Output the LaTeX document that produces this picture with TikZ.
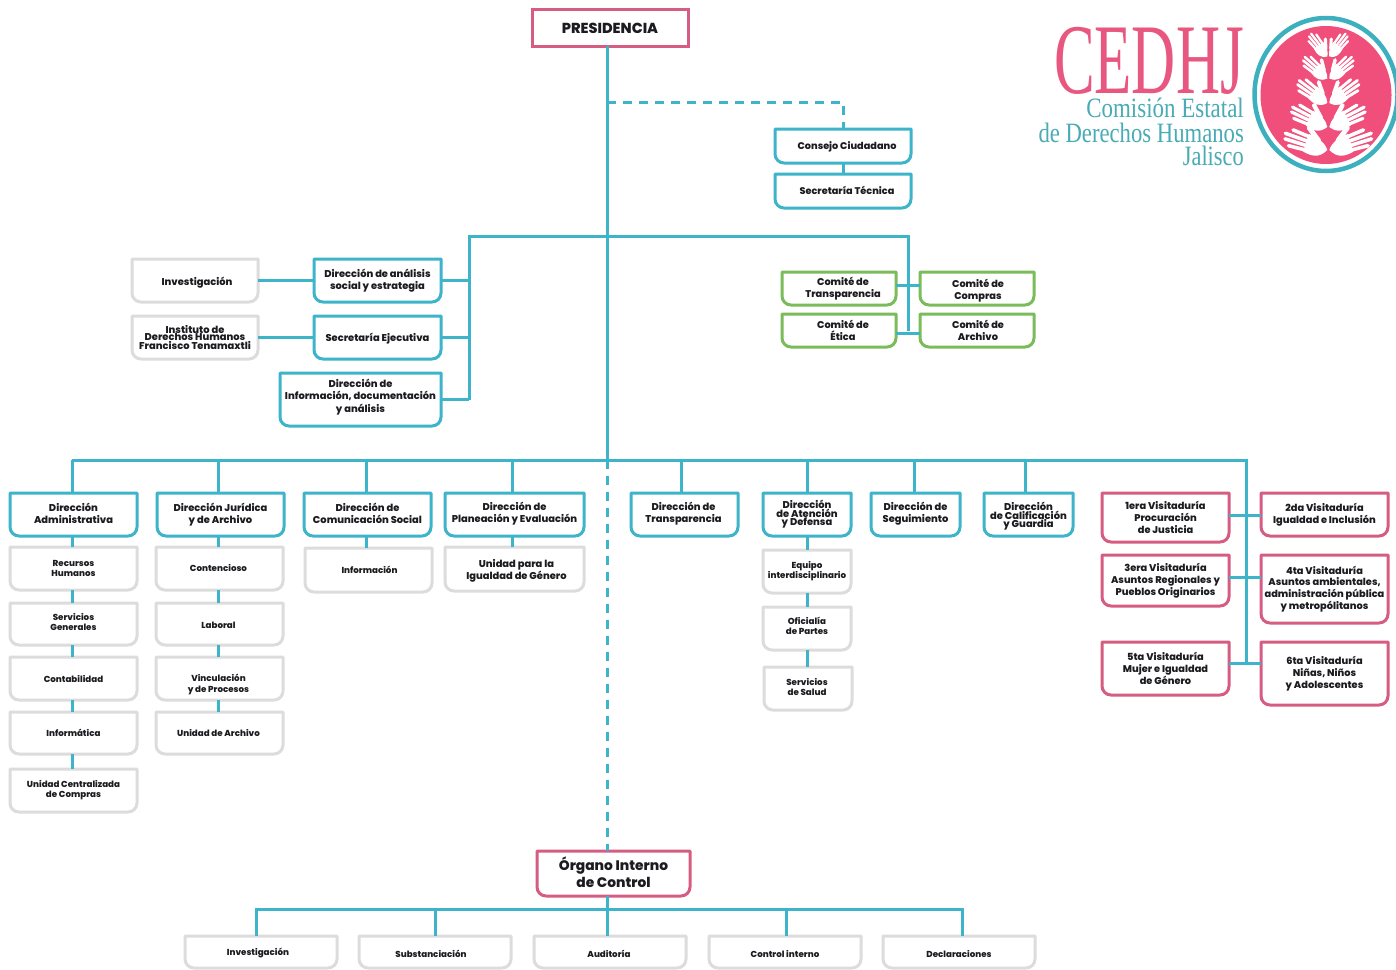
\documentclass[tikz,border=0pt]{standalone}
\usepackage{fontspec}
\setmainfont{Poppins}[BoldFont={Poppins ExtraBold}]
\newfontfamily\logofont{Liberation Serif}
\definecolor{teal1}{HTML}{3DB4C9}
\definecolor{pink1}{HTML}{D65C82}
\definecolor{green1}{HTML}{7ABB5A}
\definecolor{grey1}{HTML}{DCDCDC}
\definecolor{ink}{HTML}{1C1C20}
\definecolor{logopink}{HTML}{F04E7B}
\definecolor{logotext}{HTML}{E8577F}
\definecolor{logoteal}{HTML}{48ABB5}
\definecolor{logoring}{HTML}{3DB0BF}
\tikzset{
  x=1pt,y=-1pt,
  tealbox/.style={draw=teal1,line width=3pt,line join=round},
  pinkbox/.style={draw=pink1,line width=3pt,line join=round},
  greenbox/.style={draw=green1,line width=3pt,line join=round},
  greybox/.style={draw=grey1,line width=3pt,line join=round},
  link/.style={draw=teal1,line width=3pt},
  dashlink/.style={link,dash pattern=on 9pt off 7pt},
  txt/.style={text=ink,align=center,inner sep=0pt,outer sep=0pt},
  tM/.style={txt,font=\bfseries\fontsize{9.9}{12.2}\selectfont},
  tS/.style={txt,font=\bfseries\fontsize{8.7}{10.2}\selectfont},
  tV/.style={txt,font=\bfseries\fontsize{9.8}{11.8}\selectfont},
  tT/.style={txt,font=\bfseries\fontsize{9.9}{8.6}\selectfont},
  tI/.style={txt,font=\bfseries\fontsize{9.9}{7.8}\selectfont},
  tP/.style={txt,font=\bfseries\fontsize{14.5}{16}\selectfont},
  tC/.style={txt,font=\bfseries\fontsize{9.7}{12}\selectfont},
  tO/.style={txt,font=\bfseries\fontsize{13.8}{17}\selectfont},
  hollow/.style={inner sep=0pt,outer sep=0pt,rectangle},
}
% [text dx,dy]{name}{box style}{text style}{x1}{y1}{x2}{y2}{text}
\newcommand\bx[9][0,0]{%
  \node[hollow,minimum width={(#7-#5)*1pt},minimum height={(#8-#6)*1pt}] (#2) at ({(#5+#7)/2},{(#6+#8)/2}) {};
  \draw[#3] (#2.north west) [rounded corners=9pt] -- (#2.south west) -- (#2.south east) [rounded corners=0pt] -- (#2.north east) -- cycle;
  \node[#4] (#2-label) at ([shift={(#1)}]#2.center) {#9};
}
% the square box of the top
\newcommand\sqbx[7]{%
  \node[hollow,minimum width={(#5-#3)*1pt},minimum height={(#6-#4)*1pt}] (#1) at ({(#3+#5)/2},{(#4+#6)/2}) {};
  \draw[pinkbox,line join=miter] (#1.north west) rectangle (#1.south east);
  \node[#2] (#1-label) at ([yshift=-1pt]#1.center) {#7};
}
\newcommand\dropto[3]{\coordinate (tmpa) at ([xshift=#2pt]#1.north); \draw[link] (tmpa) -- (tmpa |- #3);}
\newcommand\vlink[3]{\coordinate (tmpa) at ([xshift=#3pt]#1.south); \draw[link] (tmpa) -- (tmpa |- #2.north);}
\newcommand\hlink[3]{\coordinate (tmpa) at ([yshift=#3pt]#1.east); \draw[link] (tmpa) -- (tmpa -| #2.west);}
% hand: base x, base y, rotation, length, mirror
\newcommand\hand[5]{%
  \begin{scope}[shift={(#1,#2)},rotate=#3,yscale=#5,scale=#4]
    \fill[white] (0,0) .. controls (.1,.14) and (.3,.21) .. (.5,.21) -- (.5,-.2) .. controls (.3,-.24) and (.12,-.24) .. (0,0) -- cycle;
    \begin{scope}[draw=white,line cap=round,line width={#4*0.08pt}]
      \draw (.45,.155) -- (.86,.19);
      \draw (.45,.05) -- (1,.065);
      \draw (.45,-.05) -- (.97,-.055);
      \draw (.45,-.15) -- (.85,-.175);
      \draw[line width={#4*0.11pt}] (.25,.14) -- (.53,.34);
    \end{scope}
  \end{scope}}
\begin{document}
\begin{tikzpicture}
\fill[white] (0,0) rectangle (1396,969);
\useasboundingbox (0,0) rectangle (1396,969);

% reference points of the trunk and the buses
\coordinate (dashbus) at (607,102);
\coordinate (bus1) at (607,236);
\coordinate (bus2) at (607,460);
\coordinate (bus3) at (607,909);
\coordinate (west1) at (469,236);
\coordinate (east1) at (908,236);
\coordinate (west2) at (72,460);
\coordinate (east2) at (1246,460);
\coordinate (west3) at (256,909);
\coordinate (east3) at (962,909);
\coordinate (vispine) at (1246,663);

% ---------- boxes
\sqbx{pres}{tP}{532}{9}{688}{46}{PRESIDENCIA}
\bx[4,0.5]{consejo}{tealbox}{tC}{775}{129}{911}{163}{Consejo Ciudadano}
\bx[4,-0.5]{sectec}{tealbox}{tC}{775}{174}{911}{208}{Secretaría Técnica}

\bx[4,0]{cotra}{greenbox}{tV}{782}{272}{896}{305}{Comité de\\Transparencia}
\bx[1,2]{cocom}{greenbox}{tV}{920}{272}{1034}{305}{Comité de\\Compras}
\bx[4,0]{coeti}{greenbox}{tV}{782}{314}{896}{347}{Comité de\\Ética}
\bx[1,0]{coarc}{greenbox}{tV}{920}{314}{1034}{347}{Comité de\\Archivo}

\bx[2,2]{inv}{greybox}{tM}{132}{259}{258}{302}{Investigación}
\bx{dasoc}{tealbox}{tM}{314}{259}{441}{302}{Dirección de análisis\\social y estrategia}
\bx{inst}{greybox}{tI}{132}{316}{258}{359}{Instituto de\\Derechos Humanos\\Francisco Tenamaxtli}
\bx[0,1]{sejec}{tealbox}{tM}{314}{316}{441}{359}{Secretaría Ejecutiva}
\bx[0,-2.5]{dinfo}{tealbox}{tM}{280}{373}{441}{426}{Dirección de\\Información, documentación\\y análisis}

\bx[0,-1]{dadm}{tealbox}{tM}{10}{493}{137}{536}{Dirección\\Administrativa}
\bx{djur}{tealbox}{tM}{157}{493}{284}{536}{Dirección Jurídica\\y de Archivo}
\bx[0,-1]{dcom}{tealbox}{tM}{304}{493}{431}{536}{Dirección de\\Comunicación Social}
\bx[0,-1]{dpla}{tealbox}{tM}{445}{493}{584}{536}{Dirección de\\Planeación y Evaluación}
\bx[-1,-1]{dtra}{tealbox}{tM}{631}{493}{738}{536}{Dirección de\\Transparencia}
\bx{date}{tealbox}{tT}{763}{493}{851}{536}{Dirección\\de Atención\\y Defensa}
\bx[0,-1]{dseg}{tealbox}{tM}{871}{493}{960}{536}{Dirección de\\Seguimiento}
\bx[0,2]{dcal}{tealbox}{tT}{984}{493}{1073}{536}{Dirección\\de Calificación\\y Guardia}

\bx{rh}{greybox}{tS}{10}{547}{137}{590}{Recursos\\Humanos}
\bx[0,-2]{sg}{greybox}{tS}{10}{603}{137}{645}{Servicios\\Generales}
\bx{cont}{greybox}{tS}{10}{657}{137}{700}{Contabilidad}
\bx{infm}{greybox}{tS}{10}{712}{137}{754}{Informática}
\bx{ucc}{greybox}{tS}{10}{769}{137}{812}{Unidad Centralizada\\de Compras}

\bx[-1,-1]{cnt}{greybox}{tS}{156}{547}{283}{590}{Contencioso}
\bx[-1,1]{lab}{greybox}{tS}{156}{603}{283}{645}{Laboral}
\bx[-1,6]{vin}{greybox}{tS}{156}{657}{283}{700}{Vinculación\\y de Procesos}
\bx[-1,0]{uar}{greybox}{tS}{156}{712}{283}{754}{Unidad de Archivo}

\bx[1,0]{inf}{greybox}{tS}{305}{548}{432}{592}{Información}
\bx[2,2]{uig}{greybox}{tM}{445}{547}{584}{591}{Unidad para la\\Igualdad de Género}

\bx{eq}{greybox}{tS}{763}{550}{851}{593}{Equipo\\interdisciplinario}
\bx[0,-2.5]{ofi}{greybox}{tS}{763}{607}{851}{650}{Oficialía\\de Partes}
\bx[-1,-1.5]{sal}{greybox}{tS}{764}{667}{852}{710}{Servicios\\de Salud}

\bx{v1}{pinkbox}{tV}{1102}{493}{1229}{542}{1era Visitaduría\\Procuración\\de Justicia}
\bx{v2}{pinkbox}{tV}{1261}{493}{1388}{536}{2da Visitaduría\\Igualdad e Inclusión}
\bx{v3}{pinkbox}{tV}{1102}{555}{1229}{606}{3era Visitaduría\\Asuntos Regionales y\\Pueblos Originarios}
\bx{v4}{pinkbox}{tV}{1261}{555}{1388}{623}{4ta Visitaduría\\Asuntos ambientales,\\administración pública\\y metropólitanos}
\bx{v5}{pinkbox}{tV}{1102}{642}{1229}{695}{5ta Visitaduría\\Mujer e Igualdad\\de Género}
\bx{v6}{pinkbox}{tV}{1261}{642}{1388}{705}{6ta Visitaduría\\Niñas, Niños\\y Adolescentes}

\bx[0,-1]{oic}{pinkbox}{tO}{537}{851}{690}{896}{Órgano Interno\\de Control}
\bx[-3,1.5]{b1}{greybox}{tS}{185}{936}{337}{968}{Investigación}
\bx[-4,1.5]{b2}{greybox}{tS}{359}{936}{511}{968}{Substanciación}
\bx[-1,1.5]{b3}{greybox}{tS}{534}{936}{686}{968}{Auditoría}
\bx[0,1.5]{b4}{greybox}{tS}{709}{936}{861}{968}{Control interno}
\bx[0,1.5]{b5}{greybox}{tS}{883}{936}{1035}{968}{Declaraciones}

% ---------- trunk and buses
\coordinate (ptrunk) at ([xshift=-3pt]pres.south);
\draw[link] (ptrunk) -- (ptrunk |- bus2);
\coordinate (otrunk) at ([xshift=-6.5pt]oic.north);
\draw[dashlink] (otrunk |- bus2) -- (otrunk);
\draw[dashlink] (dashbus) -- (dashbus -| consejo.north) -- (consejo.north);
\draw[link] (consejo.south) -- (sectec.north);

\draw[link] (west1 |- dinfo.east) -- (west1) -- (east1) -- (east1 |- coeti.east);
\coordinate (tmpb) at ([yshift=3.5pt]cotra.east);
\draw[link] (tmpb) -- (tmpb -| cocom.west);
\coordinate (tmpb) at ([yshift=-2.5pt]coeti.east);
\draw[link] (tmpb) -- (tmpb -| coarc.west);

\draw[link] (inv.east) -- (dasoc.west);
\draw[link] (inst.east) -- (sejec.west);
\draw[link] (dasoc.east) -- (dasoc.east -| west1);
\draw[link] (sejec.east) -- (sejec.east -| west1);
\draw[link] (dinfo.east) -- (dinfo.east -| west1);

\draw[link] (west2) -- (east2) -- (vispine);
\dropto{dadm}{-1.5}{bus2}
\dropto{djur}{-2.5}{bus2}
\dropto{dcom}{-1.5}{bus2}
\dropto{dpla}{-2.5}{bus2}
\dropto{dtra}{-3.5}{bus2}
\dropto{date}{0}{bus2}
\dropto{dseg}{-1.5}{bus2}
\dropto{dcal}{-3.5}{bus2}

\vlink{dadm}{rh}{-1.5}
\vlink{rh}{sg}{-1.5}
\vlink{sg}{cont}{-1.5}
\vlink{cont}{infm}{-1.5}
\vlink{infm}{ucc}{-1.5}
\vlink{djur}{cnt}{-2.5}
\vlink{cnt}{lab}{-1.5}
\vlink{lab}{vin}{-1.5}
\vlink{vin}{uar}{-1.5}
\vlink{dcom}{inf}{-1.5}
\vlink{dpla}{uig}{-2.5}
\vlink{date}{eq}{0}
\vlink{eq}{ofi}{0}
\vlink{ofi}{sal}{0}

\hlink{v1}{v2}{2.5}
\hlink{v3}{v4}{3.5}
\hlink{v5}{v6}{5.5}

\coordinate (tmpb) at ([xshift=-6.5pt]oic.south);
\draw[link] (tmpb) -- (tmpb |- b3.north);
\draw[link] (west3 |- b1.north) -- (west3) -- (east3) -- (east3 |- b5.north);
\coordinate (tmpc) at ([xshift=0pt]b2.north);
\draw[link] (tmpc) -- (tmpc |- bus3);
\coordinate (tmpc) at ([xshift=1pt]b4.north);
\draw[link] (tmpc) -- (tmpc |- bus3);

% ---------- logo
\begin{scope}
  \clip (0,0) rectangle (1396,969);
  \fill[logopink] (1326,95) ellipse [x radius=65.5,y radius=69];
  \draw[logoring,line width=4.5pt] (1326,94.5) ellipse [x radius=71.5,y radius=76.5];
  \hand{1327.3}{56.5}{129}{28}{1}
  \hand{1329.3}{56.5}{51}{28}{-1}
  \hand{1327.3}{78.5}{140}{31}{1}
  \hand{1329.3}{78.5}{40}{31}{-1}
  \hand{1327.3}{103}{145}{36}{1}
  \hand{1329.3}{103}{35}{36}{-1}
  \hand{1327.3}{127}{154}{40}{1}
  \hand{1329.3}{127}{26}{40}{-1}
  \hand{1327.3}{150}{162}{45}{1}
  \hand{1329.3}{150}{18}{45}{-1}
\end{scope}
\node[anchor=base east,inner sep=0pt,text=logotext] (logoa) at (1244,93) {\scalebox{.61}[1]{\logofont\fontsize{100}{100}\selectfont CEDHJ}};
\node[anchor=base east,inner sep=0pt,text=logoteal] (logob) at (1244,117) {\scalebox{.82}[1]{\logofont\fontsize{28}{30}\selectfont Comisión Estatal}};
\node[anchor=base east,inner sep=0pt,text=logoteal] (logoc) at (1244,142) {\scalebox{.81}[1]{\logofont\fontsize{28}{30}\selectfont de Derechos Humanos}};
\node[anchor=base east,inner sep=0pt,text=logoteal] (logod) at (1244,165) {\scalebox{.8}[1]{\logofont\fontsize{28}{30}\selectfont Jalisco}};
\end{tikzpicture}
\end{document}
